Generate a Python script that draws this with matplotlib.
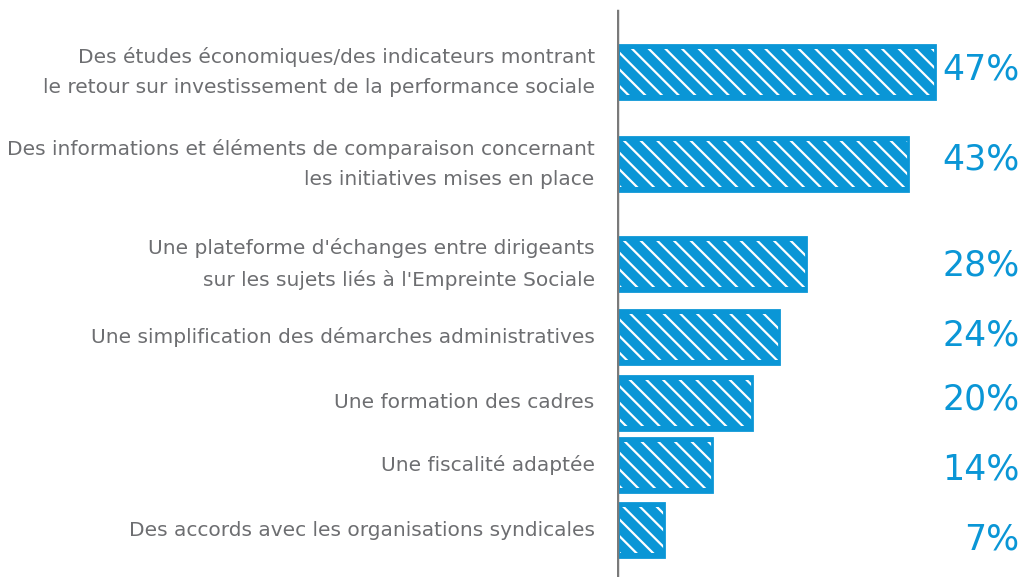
import matplotlib.pyplot as plt

# données
labels = [
    "Des études économiques/des indicateurs montrant\nle retour sur investissement de la performance sociale",
    "Des informations et éléments de comparaison concernant\nles initiatives mises en place",
    "Une plateforme d'échanges entre dirigeants\nsur les sujets liés à l'Empreinte Sociale",
    "Une simplification des démarches administratives",
    "Une formation des cadres",
    "Une fiscalité adaptée",
    "Des accords avec les organisations syndicales",
]
values = [47, 43, 28, 24, 20, 14, 7]

# mise en page (centres des barres, en pixels depuis le haut)
bar_y = [72, 164, 264, 337, 403, 465, 530]
pct_y = [70, 160, 265, 336, 400, 470, 540]
bar_h = 54

blue = "#0a96d6"
grey = "#6d6e71"

plt.rcParams['hatch.linewidth'] = 1.6

fig = plt.figure(figsize=(10.23, 5.77), dpi=100)
ax = fig.add_axes([617 / 1023, 0, 406 / 1023, 1])
ax.set_xlim(0, 60)
ax.set_ylim(577, 0)
ax.axis("off")

ax.barh(bar_y, values, height=bar_h, color=blue, edgecolor=blue, linewidth=0)
ax.barh(bar_y, values, height=bar_h - 8, left=0.4, fill=False,
        hatch="\\\\", edgecolor="white", linewidth=0)
ax.barh(bar_y, values, height=bar_h, fill=False, edgecolor=blue, linewidth=2)

ax.axvline(0, ymin=0, ymax=1 - 12 / 577, color="#7a7a7a", linewidth=3.2)

for lab, y in zip(labels, bar_y):
    ax.text(-3.3, y, lab, ha="right", va="center", color=grey, fontsize=14.5,
            linespacing=1.75, clip_on=False, family="DejaVu Sans Condensed")

for v, y in zip(values, pct_y):
    ax.text(59.5, y, f"{v}%", ha="right", va="center", color=blue,
            fontsize=25, clip_on=False)

fig.savefig("out.png", dpi=100)
